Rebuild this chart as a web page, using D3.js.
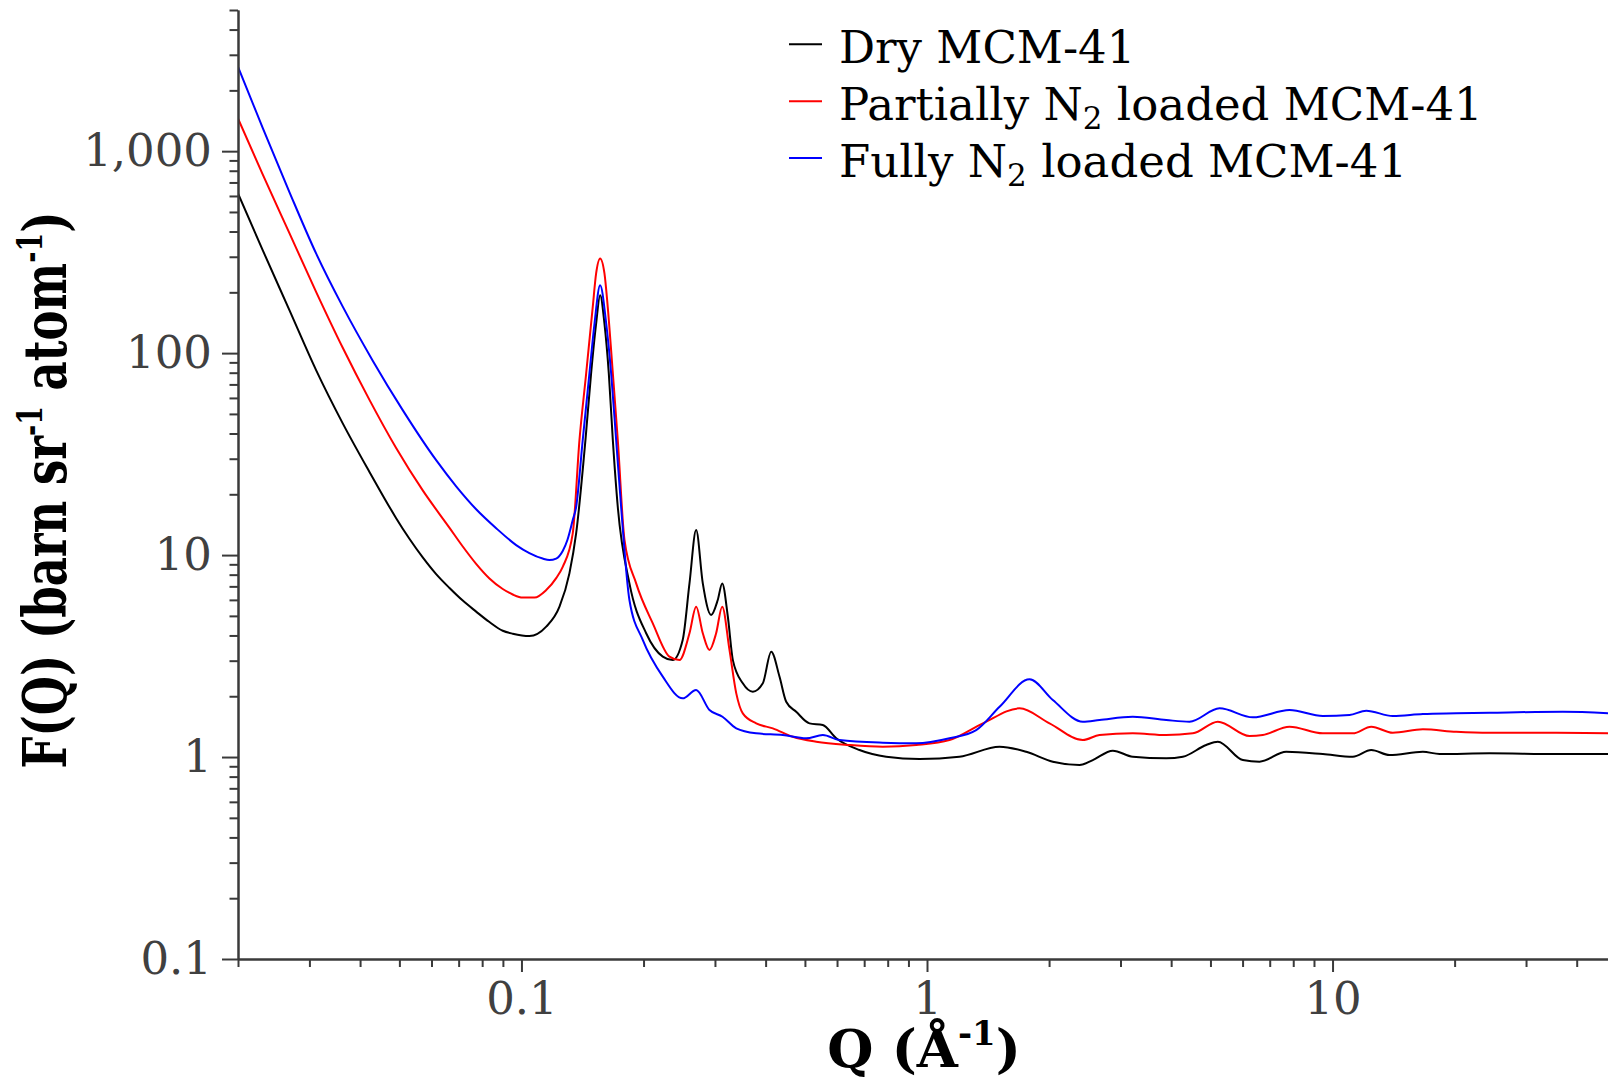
<!DOCTYPE html>
<html><head><meta charset="utf-8">
<script src="https://cdn.jsdelivr.net/npm/d3@7"></script>
<style>html,body{margin:0;padding:0;background:#fff;overflow:hidden}</style>
</head><body>
<svg id="chart" width="1608" height="1079"></svg>
<script>
// ---- data: [Q (Å^-1), F(Q)] ----
const dryMCM41 = [
 [0.02,617.5],[0.02301,323.6],[0.02678,163.3],[0.03116,82.4],[0.03625,44.9],[0.04219,25.8],[0.0455,19.75],
 [0.04909,15.23],[0.05293,12.04],[0.05709,9.74],[0.06161,8.05],[0.06647,6.87],[0.07166,5.95],[0.07731,5.25],
 [0.08338,4.66],[0.08993,4.22],[0.09517,4.08],[0.1046,3.97],[0.1151,4.42],[0.1241,5.55],[0.1313,8.12],
 [0.1364,12.8],[0.1438,37.1],[0.1485,79.4],[0.1528,140],[0.1563,193.7],[0.1602,140],[0.1642,79.4],
 [0.1680,37.1],[0.1728,17.3],[0.1846,7.24],[0.2030,4.10],[0.2231,3.14],[0.2360,3.02],[0.2498,3.80],
 [0.2596,7.24],[0.2696,13.3],[0.2800,7.24],[0.2936,5.05],[0.3048,5.99],[0.3126,7.24],[0.3228,4.95],
 [0.3321,3.02],[0.3514,2.317],[0.3720,2.105],[0.3937,2.317],[0.4129,3.32],[0.4329,2.497],[0.4496,1.878],
 [0.4758,1.676],[0.5132,1.468],[0.5534,1.44],[0.5972,1.238],[0.6815,1.083],[0.7931,1.003],[0.9583,0.977],
 [1.202,1.003],[1.51,1.125],[1.757,1.062],[2.043,0.948],[2.377,0.913],[2.564,0.966],[2.872,1.075],
 [3.217,1.003],[3.89,0.985],[4.274,1.003],[4.881,1.147],[5.214,1.191],[6.009,0.966],[6.607,0.948],
 [7.688,1.062],[9.465,1.035],[11.22,1.003],[12.46,1.083],[13.82,1.023],[16.7,1.062],[18.36,1.035],
 [24.39,1.043],[35.62,1.035],[50,1.035]
];
const partialN2 = [
 [0.02,1452],[0.02301,767.5],[0.02678,392.7],[0.03116,201.2],[0.03625,106.3],[0.04219,58.7],[0.04909,33.9],
 [0.05709,20.9],[0.06647,13.64],[0.07166,11.03],[0.07731,9.05],[0.08338,7.66],[0.08993,6.79],[0.09517,6.38],
 [0.1007,6.16],[0.1077,6.16],[0.1151,6.71],[0.1218,7.69],[0.1264,8.75],[0.1338,12.8],[0.139,37.1],
 [0.1444,79.4],[0.1499,169.5],[0.1528,248],[0.1563,294],[0.1602,248],[0.1632,169.5],[0.1680,79.4],
 [0.1728,37.1],[0.1795,11.9],[0.1918,7.24],[0.2108,4.59],[0.2317,3.14],[0.2452,3.02],[0.2596,4.10],
 [0.2696,5.55],[0.2800,4.10],[0.2908,3.39],[0.3020,4.10],[0.3126,5.55],[0.3258,3.39],[0.3386,2.067],
 [0.3514,1.646],[0.3792,1.468],[0.4167,1.387],[0.4667,1.26],[0.5331,1.191],[0.6439,1.147],[0.778,1.125],
 [0.9406,1.147],[1.136,1.214],[1.373,1.468],[1.691,1.742],[2.005,1.468],[2.422,1.214],[2.663,1.285],
 [3.217,1.31],[3.89,1.285],[4.524,1.31],[5.214,1.496],[6.242,1.27],[6.731,1.285],[7.834,1.413],
 [9.465,1.31],[11.22,1.31],[12.46,1.413],[14.08,1.319],[16.7,1.371],[20.19,1.334],[24.39,1.319],
 [35.62,1.319],[50,1.31]
];
const fullN2 = [
 [0.02,2614],[0.02301,1303],[0.02678,627.5],[0.03116,311.6],[0.03625,169.9],[0.04298,91.8],[0.05096,52.2],
 [0.06161,29.5],[0.06902,21.9],[0.07731,16.87],[0.08662,13.59],[0.09703,11.21],[0.1046,10.23],[0.1128,9.61],
 [0.1172,9.45],[0.1218,9.61],[0.1264,10.47],[0.1298,11.87],[0.1338,14.9],[0.1364,17.3],[0.1416,37.1],
 [0.1471,79.4],[0.1514,140],[0.1563,217],[0.1618,140],[0.1664,79.4],[0.1712,37.1],[0.1761,17.3],
 [0.1846,5.99],[0.1991,3.80],[0.2231,2.50],[0.2498,1.953],[0.2696,2.147],[0.2908,1.709],[0.3131,1.583],
 [0.3386,1.387],[0.3792,1.31],[0.441,1.285],[0.5037,1.238],[0.5534,1.285],[0.6084,1.214],[0.778,1.177],
 [0.9406,1.169],[1.136,1.238],[1.322,1.36],[1.51,1.774],[1.79,2.425],[2.043,1.915],[2.422,1.496],
 [2.663,1.525],[3.217,1.583],[3.89,1.525],[4.44,1.496],[5.265,1.742],[6.361,1.572],[7.834,1.709],
 [9.465,1.596],[11.01,1.614],[12.11,1.695],[14.08,1.596],[16.7,1.633],[20.19,1.646],[24.39,1.657],
 [36.98,1.676],[50,1.64]
];
const seriesData = [dryMCM41, partialN2, fullN2];
const seriesColors = ["#000000", "#ff0000", "#0000ff"];
// legend labels: even parts normal, odd parts subscript
const seriesLabels = [["Dry MCM-41"], ["Partially N", "2", " loaded MCM-41"], ["Fully N", "2", " loaded MCM-41"]];
const yTickValues = [0.1, 1, 10, 100, 1000];
const yTickLabels = ["0.1", "1", "10", "100", "1,000"];
const xTickValues = [0.1, 1, 10];
const xTickLabels = ["0.1", "1", "10"];
const xDomain = [0.02, 50];
const yDomain = [0.1, 5000];

// ---- layout ----
const FONT = "'DejaVu Serif', serif";
const svg = d3.select("#chart");
const x = d3.scaleLog().domain(xDomain).range([238, 1616]);
const y = d3.scaleLog().domain(yDomain).range([959, 10]);
const axisColor = "#3a3a3a";

// minor tick positions
const xMinor = [], yMinor = [];
for (let e = -2; e <= 1; e++) for (let m = 2; m <= 9; m++) {
  const v = m * Math.pow(10, e);
  if (v >= xDomain[0] && v <= xDomain[1]) xMinor.push(v);
}
for (let e = -1; e <= 3; e++) for (let m = 2; m <= 9; m++) {
  const v = m * Math.pow(10, e);
  if (v >= yDomain[0] && v <= yDomain[1]) yMinor.push(v);
}

// curves
const line = d3.line().x(d => x(d[0])).y(d => y(d[1])).curve(d3.curveMonotoneX);
svg.append("defs").append("clipPath").attr("id", "plotclip")
  .append("rect").attr("x", 238).attr("y", 10).attr("width", 1400).attr("height", 949);
const plot = svg.append("g").attr("clip-path", "url(#plotclip)");
seriesData.forEach((s, i) => {
  plot.append("path").datum(s).attr("d", line)
    .attr("fill", "none").attr("stroke", seriesColors[i]).attr("stroke-width", 2)
    .attr("stroke-linejoin", "round");
});

// y axis
const yAxisG = svg.append("g").attr("transform", "translate(238,0)");
yAxisG.append("g").call(d3.axisLeft(y).tickValues(yMinor).tickSize(8.5).tickSizeOuter(0).tickFormat(""));
yAxisG.append("g").call(d3.axisLeft(y).tickValues(yTickValues).tickSize(16).tickSizeOuter(0).tickPadding(10)
  .tickFormat((d, i) => yTickLabels[i]));
// x axis
const xAxisG = svg.append("g").attr("transform", "translate(0,959)");
xAxisG.append("g").call(d3.axisBottom(x).tickValues(xMinor).tickSize(8).tickSizeOuter(0).tickFormat(""));
xAxisG.append("g").call(d3.axisBottom(x).tickValues(xTickValues).tickSize(13).tickSizeOuter(0).tickPadding(10)
  .tickFormat((d, i) => xTickLabels[i]));

svg.selectAll(".domain").attr("stroke", axisColor).attr("stroke-width", 2);
svg.selectAll(".tick line").attr("stroke", axisColor).attr("stroke-width", 2);
svg.selectAll(".tick text").attr("font-family", FONT).attr("font-size", 45).attr("fill", "#404040");

// axis titles
const xt = svg.append("text").attr("x", 924).attr("y", 1067).attr("text-anchor", "middle")
  .attr("font-family", FONT).attr("font-weight", "bold").attr("font-size", 53).attr("fill", "#000");
xt.append("tspan").text("Q (Å");
xt.append("tspan").attr("font-size", 34).attr("dy", -22).text("-1");
xt.append("tspan").attr("dy", 22).text(")");

const yt = svg.append("text").attr("text-anchor", "middle")
  .attr("transform", "translate(66,490) rotate(-90) scale(1,1.31)")
  .attr("font-family", FONT).attr("font-weight", "bold").attr("font-size", 45).attr("fill", "#000");
yt.append("tspan").text("F(Q) (barn sr");
yt.append("tspan").attr("font-size", 27).attr("dy", -18).text("-1");
yt.append("tspan").attr("dy", 18).text(" atom");
yt.append("tspan").attr("font-size", 27).attr("dy", -18).text("-1");
yt.append("tspan").attr("dy", 18).text(")");

// legend
const legendBaselines = [63.3, 120.3, 177];
seriesLabels.forEach((parts, i) => {
  const by = legendBaselines[i];
  svg.append("line").attr("x1", 789).attr("x2", 822).attr("y1", by - 19).attr("y2", by - 19)
    .attr("stroke", seriesColors[i]).attr("stroke-width", 2);
  const t = svg.append("text").attr("x", 839).attr("y", by)
    .attr("font-family", FONT).attr("font-size", 45).attr("fill", "#000");
  parts.forEach((p, k) => {
    const ts = t.append("tspan").text(p);
    if (k % 2 === 1) ts.attr("font-size", 31).attr("dy", 9);
    else if (k > 0) ts.attr("dy", -9);
  });
});
</script>
</body></html>
